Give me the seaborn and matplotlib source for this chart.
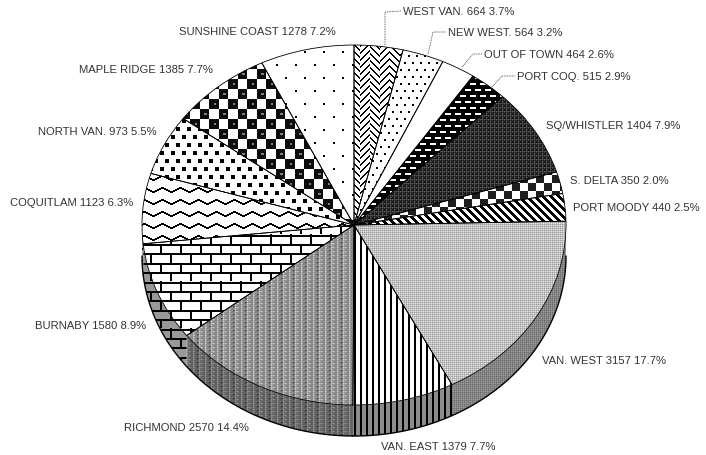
import numpy as np
import seaborn as sns
import matplotlib
matplotlib.use('Agg')
import matplotlib.pyplot as plt
from matplotlib.patches import PathPatch
from matplotlib.path import Path

# chart values, clockwise from the top
regions = ['WEST VAN.', 'NEW WEST.', 'OUT OF TOWN', 'PORT COQ.', 'SQ/WHISTLER', 'S. DELTA',
           'PORT MOODY', 'VAN. WEST', 'VAN. EAST', 'RICHMOND', 'BURNABY', 'COQUITLAM',
           'NORTH VAN.', 'MAPLE RIDGE', 'SUNSHINE COAST']
counts = [664, 564, 464, 515, 1404, 350, 440, 3157, 1379, 2570, 1580, 1123, 973, 1385, 1278]
percents = [3.7, 3.2, 2.6, 2.9, 7.9, 2.0, 2.5, 17.7, 7.7, 14.4, 8.9, 6.3, 5.5, 7.7, 7.2]

# label anchors in pixels (left edge, middle)
label_px = [(403, 12), (448, 33), (484, 55), (517, 77), (546, 126), (570, 181),
            (573, 208), (542, 361), (381, 447), (124, 428), (35, 326), (10, 203),
            (38, 132), (79, 70), (179, 32)]
# leader lines for the small slices, in pixels
leaders = [[(385, 46), (385, 13), (401, 12)],
           [(428, 55), (433, 33), (446, 33)],
           [(462, 68), (473, 55), (482, 55)],
           [(492, 88), (502, 77), (515, 77)]]

W, H = 706, 456
CX, CY, RX, RY = 354, 226, 212, 180
DEPTH = 31 / RY

sns.set_theme(style='white', font='Liberation Sans')

X, Y = np.meshgrid(np.arange(W), np.arange(H))
bayer = np.array([[0, 8, 2, 10], [12, 4, 14, 6], [3, 11, 1, 9], [15, 7, 13, 5]]) / 16 + 1 / 32
bayer = bayer[Y % 4, X % 4]


def soften(a):
    return (2 * a + np.roll(a, 1, 0) + np.roll(a, 1, 1)) / 4


def stipple(g, cols=0.0, mix=0.55):
    # grey tone with a fine ordered dither on top, as a scanned print looks
    level = g + cols * np.sin(X * np.pi / 1.5)
    d = soften((level > bayer).astype(float))
    return mix * d + (1 - mix) * g


def dots(px, py, size):
    row = Y // py
    return 1.0 - (((X + (row % 2) * px // 2) % px < size) & (Y % py < size))


def zigzag():
    tri = np.abs((X % 18) / 18 * 2 - 1) * 4.5
    return 1.0 - (((Y + tri) % 12) < 1.9)


def bricks():
    row = np.floor(Y / 9.4).astype(int)
    lines = (Y % 9.4 < 2) | ((X + 10 * (row % 2)) % 20 < 2)
    return 1.0 - lines


def checks():
    c = ((np.floor(X / 9.5) + np.floor(Y / 10)) % 2 == 0)
    mid = (X % 9.5 > 4) & (X % 9.5 < 7) & (Y % 10 > 3) & (Y % 10 < 6)
    return np.where(c, np.where(mid, 0.5, 0.05), 1.0)


def weave():
    block = (X // 10) % 2 == 0
    a = (X + Y) % 7 < 1.6
    b = (X - Y) % 7 < 1.6
    return 1.0 - np.where(block, a, b)


def dashes():
    row = Y // 6
    return (((X + (row % 2) * 5) % 10 < 6) & (Y % 6 < 2)).astype(float)


def circles():
    cell = ((X // 8 + Y // 8) % 2 == 0)
    return np.where(cell, 1.0, 0.12)


fills = [weave(), dots(8, 7, 2), np.ones((H, W)), dashes(), stipple(0.2),
         circles(), 1.0 - (((X - Y) % 8) < 3.5), stipple(0.76),
         1.0 - (X % 6 < 2), stipple(0.58, 0.2),
         bricks(), zigzag(), dots(11, 8, 4), checks(), dots(19, 13, 2)]
# how much darker each slice gets on the side wall
wall_shade = [1, 1, 1, 1, 1, 1, 1, 0.68, 0.55, 0.72, 0.6, 0.6, 1, 1, 1]

fig = plt.figure(figsize=(W / 100, H / 100), dpi=100)
ax = fig.add_axes([0, 0, 1, 1])

wedges, _ = ax.pie(counts, startangle=90, counterclock=False, radius=1,
                   wedgeprops=dict(facecolor='none', edgecolor='black', linewidth=0.6, zorder=3))
ax.set_aspect('auto')
xlim = (-CX / RX, (W - CX) / RX)
ylim = ((CY - H) / RY, CY / RY)

for w, tex, shade in zip(wedges, fills, wall_shade):
    # side wall first, only the front half of the pie shows one
    t1, t2 = max(w.theta1, -180), min(w.theta2, 0)
    if t1 < t2:
        t = np.radians(np.linspace(t1, t2, 120))
        top = np.column_stack([np.cos(t), np.sin(t)])
        low = top[::-1] - [0, DEPTH]
        side = PathPatch(Path(np.vstack([top, low, top[:1]])), facecolor='none',
                         edgecolor='none', zorder=2)
        ax.add_patch(side)
        im = ax.imshow(tex * shade, cmap='gray', vmin=0, vmax=1, extent=(*xlim, *ylim),
                       aspect='auto', interpolation='nearest', zorder=1)
        im.set_clip_path(side)
        ax.plot(low[:, 0], low[:, 1], color='black', linewidth=1.0, zorder=2)
    im = ax.imshow(tex, cmap='gray', vmin=0, vmax=1, extent=(*xlim, *ylim),
                   aspect='auto', interpolation='nearest', zorder=2.5)
    im.set_clip_path(w)
ax.set_xlim(xlim)
ax.set_ylim(ylim)
ax.axis('off')

for name, n, p, (px, py) in zip(regions, counts, percents, label_px):
    fig.text(px / W, 1 - py / H, f'{name} {n} {p}%', fontsize=8.1, color='#333333',
             ha='left', va='center')

for pts in leaders:
    xs = [a / W for a, b in pts]
    ys = [1 - b / H for a, b in pts]
    fig.add_artist(plt.Line2D(xs, ys, color='#333333', linewidth=0.6, linestyle=(0, (1, 1))))

fig.savefig('out.png', dpi=100, facecolor='white')
